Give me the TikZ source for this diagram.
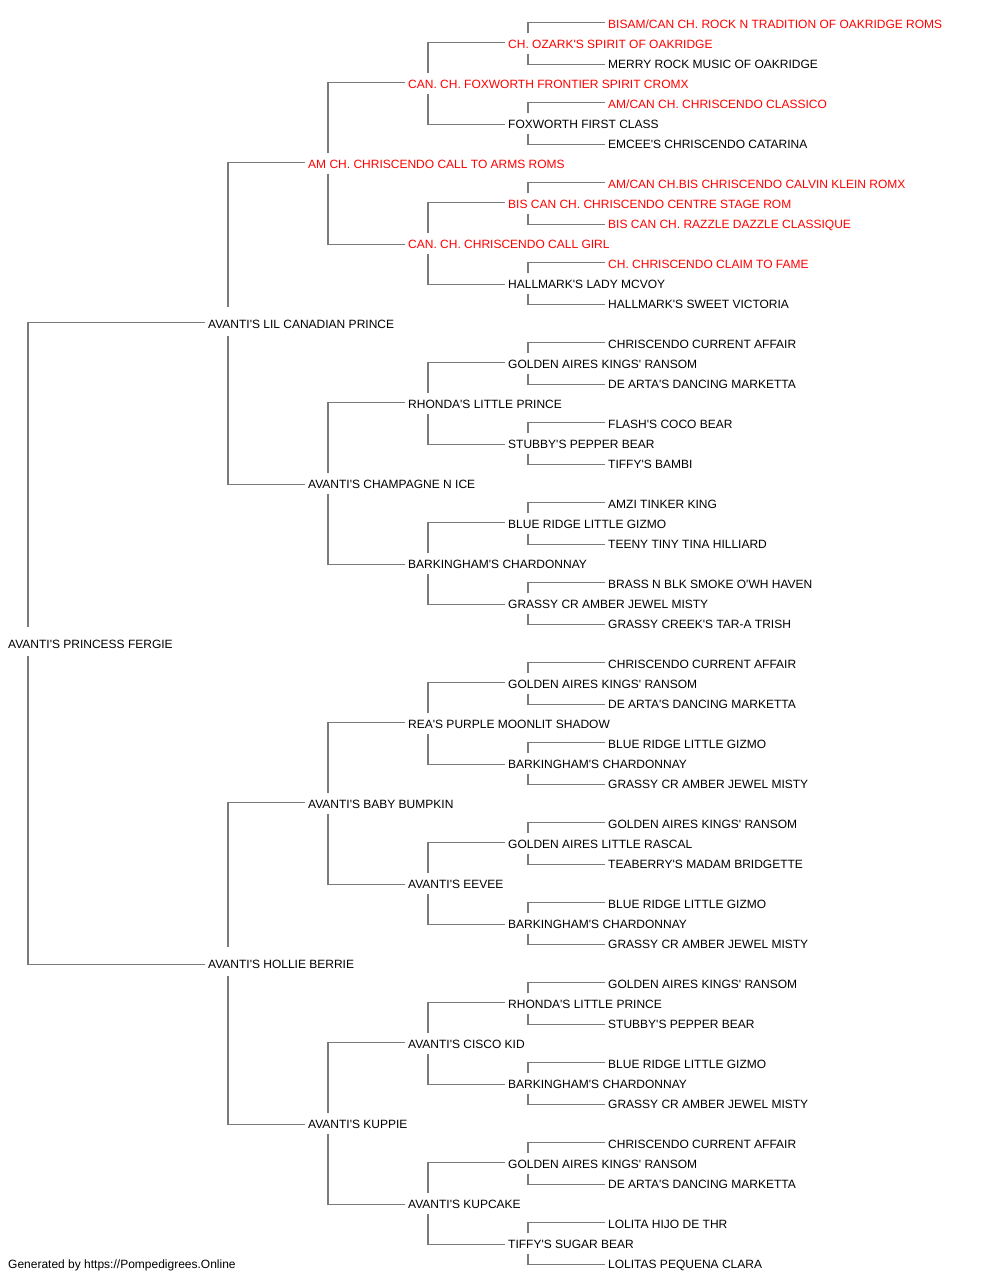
\documentclass[tikz,border=0pt]{standalone}
\usepackage{fontspec}
\setmainfont{Liberation Sans}[Ligatures=TeXOff]
\definecolor{pedred}{HTML}{FF0000}
\definecolor{pedline}{HTML}{7A7A7A}
\begin{document}
\begin{tikzpicture}[x=1pt,y=-1pt,
  lbl/.style={anchor=west, inner sep=0pt, text height=8.6pt, text depth=0pt, font=\fontsize{12}{14}\selectfont, text=black},
  ch/.style={lbl, text=pedred},
  conn/.style={draw=pedline, line width=1.7pt}]
\useasboundingbox[fill=white] (0,0) rectangle (1000,1280);
% generation 0
\node[lbl] (g0n1) at (8,643.8) {AVANTI'S PRINCESS FERGIE};
% generation 1
\node[lbl] (g1n1) at (208,323.8) {AVANTI'S LIL CANADIAN PRINCE};
\node[lbl] (g1n2) at (208,963.8) {AVANTI'S HOLLIE BERRIE};
% generation 2
\node[ch]  (g2n1) at (308,163.8) {AM CH. CHRISCENDO CALL TO ARMS ROMS};
\node[lbl] (g2n2) at (308,483.8) {AVANTI'S CHAMPAGNE N ICE};
\node[lbl] (g2n3) at (308,803.8) {AVANTI'S BABY BUMPKIN};
\node[lbl] (g2n4) at (308,1123.8) {AVANTI'S KUPPIE};
% generation 3
\node[ch]  (g3n1) at (408,83.8) {CAN. CH. FOXWORTH FRONTIER SPIRIT CROMX};
\node[ch]  (g3n2) at (408,243.8) {CAN. CH. CHRISCENDO CALL GIRL};
\node[lbl] (g3n3) at (408,403.8) {RHONDA'S LITTLE PRINCE};
\node[lbl] (g3n4) at (408,563.8) {BARKINGHAM'S CHARDONNAY};
\node[lbl] (g3n5) at (408,723.8) {REA'S PURPLE MOONLIT SHADOW};
\node[lbl] (g3n6) at (408,883.8) {AVANTI'S EEVEE};
\node[lbl] (g3n7) at (408,1043.8) {AVANTI'S CISCO KID};
\node[lbl] (g3n8) at (408,1203.8) {AVANTI'S KUPCAKE};
% generation 4
\node[ch]  (g4n1)  at (508,43.8) {CH. OZARK'S SPIRIT OF OAKRIDGE};
\node[lbl] (g4n2)  at (508,123.8) {FOXWORTH FIRST CLASS};
\node[ch]  (g4n3)  at (508,203.8) {BIS CAN CH. CHRISCENDO CENTRE STAGE ROM};
\node[lbl] (g4n4)  at (508,283.8) {HALLMARK'S LADY MCVOY};
\node[lbl] (g4n5)  at (508,363.8) {GOLDEN AIRES KINGS' RANSOM};
\node[lbl] (g4n6)  at (508,443.8) {STUBBY'S PEPPER BEAR};
\node[lbl] (g4n7)  at (508,523.8) {BLUE RIDGE LITTLE GIZMO};
\node[lbl] (g4n8)  at (508,603.8) {GRASSY CR AMBER JEWEL MISTY};
\node[lbl] (g4n9)  at (508,683.8) {GOLDEN AIRES KINGS' RANSOM};
\node[lbl] (g4n10) at (508,763.8) {BARKINGHAM'S CHARDONNAY};
\node[lbl] (g4n11) at (508,843.8) {GOLDEN AIRES LITTLE RASCAL};
\node[lbl] (g4n12) at (508,923.8) {BARKINGHAM'S CHARDONNAY};
\node[lbl] (g4n13) at (508,1003.8) {RHONDA'S LITTLE PRINCE};
\node[lbl] (g4n14) at (508,1083.8) {BARKINGHAM'S CHARDONNAY};
\node[lbl] (g4n15) at (508,1163.8) {GOLDEN AIRES KINGS' RANSOM};
\node[lbl] (g4n16) at (508,1243.8) {TIFFY'S SUGAR BEAR};
% generation 5
\node[ch]  (g5n1)  at (608,23.8) {BISAM/CAN CH. ROCK N TRADITION OF OAKRIDGE ROMS};
\node[lbl] (g5n2)  at (608,63.8) {MERRY ROCK MUSIC OF OAKRIDGE};
\node[ch]  (g5n3)  at (608,103.8) {AM/CAN CH. CHRISCENDO CLASSICO};
\node[lbl] (g5n4)  at (608,143.8) {EMCEE'S CHRISCENDO CATARINA};
\node[ch]  (g5n5)  at (608,183.8) {AM/CAN CH.BIS CHRISCENDO CALVIN KLEIN ROMX};
\node[ch]  (g5n6)  at (608,223.8) {BIS CAN CH. RAZZLE DAZZLE CLASSIQUE};
\node[ch]  (g5n7)  at (608,263.8) {CH. CHRISCENDO CLAIM TO FAME};
\node[lbl] (g5n8)  at (608,303.8) {HALLMARK'S SWEET VICTORIA};
\node[lbl] (g5n9)  at (608,343.8) {CHRISCENDO CURRENT AFFAIR};
\node[lbl] (g5n10) at (608,383.8) {DE ARTA'S DANCING MARKETTA};
\node[lbl] (g5n11) at (608,423.8) {FLASH'S COCO BEAR};
\node[lbl] (g5n12) at (608,463.8) {TIFFY'S BAMBI};
\node[lbl] (g5n13) at (608,503.8) {AMZI TINKER KING};
\node[lbl] (g5n14) at (608,543.8) {TEENY TINY TINA HILLIARD};
\node[lbl] (g5n15) at (608,583.8) {BRASS N BLK SMOKE O'WH HAVEN};
\node[lbl] (g5n16) at (608,623.8) {GRASSY CREEK'S TAR-A TRISH};
\node[lbl] (g5n17) at (608,663.8) {CHRISCENDO CURRENT AFFAIR};
\node[lbl] (g5n18) at (608,703.8) {DE ARTA'S DANCING MARKETTA};
\node[lbl] (g5n19) at (608,743.8) {BLUE RIDGE LITTLE GIZMO};
\node[lbl] (g5n20) at (608,783.8) {GRASSY CR AMBER JEWEL MISTY};
\node[lbl] (g5n21) at (608,823.8) {GOLDEN AIRES KINGS' RANSOM};
\node[lbl] (g5n22) at (608,863.8) {TEABERRY'S MADAM BRIDGETTE};
\node[lbl] (g5n23) at (608,903.8) {BLUE RIDGE LITTLE GIZMO};
\node[lbl] (g5n24) at (608,943.8) {GRASSY CR AMBER JEWEL MISTY};
\node[lbl] (g5n25) at (608,983.8) {GOLDEN AIRES KINGS' RANSOM};
\node[lbl] (g5n26) at (608,1023.8) {STUBBY'S PEPPER BEAR};
\node[lbl] (g5n27) at (608,1063.8) {BLUE RIDGE LITTLE GIZMO};
\node[lbl] (g5n28) at (608,1103.8) {GRASSY CR AMBER JEWEL MISTY};
\node[lbl] (g5n29) at (608,1143.8) {CHRISCENDO CURRENT AFFAIR};
\node[lbl] (g5n30) at (608,1183.8) {DE ARTA'S DANCING MARKETTA};
\node[lbl] (g5n31) at (608,1223.8) {LOLITA HIJO DE THR};
\node[lbl] (g5n32) at (608,1263.8) {LOLITAS PEQUENA CLARA};
% footer
\node[lbl] (footer) at (8,1263.8) {Generated by https://Pompedigrees.Online};
% connectors
\foreach \gen/\cnt/\gtop/\gbot in {0/1/17/12.5, 1/2/17/12.5, 2/4/10.5/10.5, 3/8/10.5/10.5, 4/16/10.5/10.5} {
  \pgfmathtruncatemacro\ngen{\gen+1}
  \foreach \i in {1,...,\cnt} {
    \pgfmathtruncatemacro\sire{2*\i-1}
    \pgfmathtruncatemacro\dam{2*\i}
    \draw[conn] ([shift={(20pt,\gtop pt)}]g\gen n\i.west) |- ([shift={(-3pt,1.3pt)}]g\ngen n\sire.west);
    \draw[conn] ([shift={(20pt,-\gbot pt)}]g\gen n\i.west) |- ([shift={(-3pt,-0.7pt)}]g\ngen n\dam.west);
  }
}
\end{tikzpicture}
\end{document}
